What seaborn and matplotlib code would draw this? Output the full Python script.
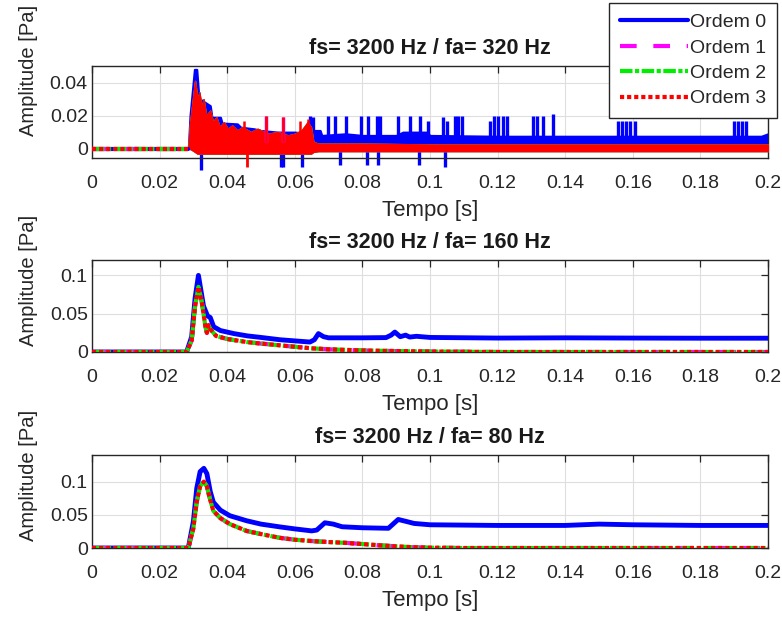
import matplotlib
matplotlib.use("Agg")
import matplotlib.pyplot as plt
from matplotlib.ticker import FuncFormatter
import seaborn as sns

# ---- data ----
# panel 1 (fa = 320 Hz): noisy response drawn as envelopes + spikes
t_top_b = [0, 0.0285, 0.029, 0.0303, 0.031, 0.0316, 0.032, 0.035, 0.0355, 0.038, 0.0385, 0.043, 0.044,
           0.048, 0.05, 0.055, 0.06, 0.065, 0.0655, 0.0675, 0.068, 0.075, 0.08, 0.09, 0.092, 0.099,
           0.1, 0.12, 0.15, 0.18, 0.198, 0.2]
hi_top_b = [0, 0, 0.02, 0.048, 0.048, 0.032, 0.03, 0.026, 0.019, 0.019, 0.0155, 0.015, 0.013,
            0.012, 0.011, 0.01, 0.01, 0.009, 0.011, 0.011, 0.008, 0.009, 0.008, 0.008, 0.01, 0.01,
            0.008, 0.0075, 0.0075, 0.0075, 0.0075, 0.009]
lo_top_b = [0, 0, 0, -0.001, -0.002, -0.002, -0.002, -0.002, -0.002, -0.002, -0.002, -0.002, -0.002,
            -0.002, -0.002, -0.002, -0.002, -0.001, 0.001, 0.001, 0.001, 0.001, 0.001, 0.001, 0.001, 0.001,
            0.001, 0.001, 0.001, 0.001, 0.001, 0.001]
spk_up_t = [0.0699, 0.0719, 0.0753, 0.0797, 0.0817, 0.0842, 0.0852, 0.0906, 0.0941, 0.097, 0.0995,
            0.1039, 0.1051, 0.1074, 0.1084, 0.1096, 0.1178, 0.1189, 0.1202, 0.1215, 0.1227,
            0.1306, 0.1318, 0.1333, 0.1363, 0.1555, 0.1568, 0.158, 0.1593, 0.1606,
            0.1898, 0.191, 0.1922, 0.1935, 0.0645, 0.0655]
spk_up_v = [0.02, 0.02, 0.02, 0.02, 0.02, 0.02, 0.02, 0.02, 0.02, 0.02, 0.017,
            0.019, 0.017, 0.02, 0.02, 0.02, 0.017, 0.02, 0.02, 0.02, 0.02,
            0.02, 0.02, 0.02, 0.021, 0.017, 0.017, 0.017, 0.017, 0.017,
            0.017, 0.017, 0.017, 0.017, 0.02, 0.019]
spk_dn_t = [0.0323, 0.0558, 0.0565, 0.0622, 0.0734, 0.0813, 0.0846, 0.0967, 0.1044]
spk_dn_v = [-0.013, -0.011, -0.011, -0.011, -0.01, -0.01, -0.01, -0.01, -0.011]

t_top_r = [0, 0.0285, 0.029, 0.0305, 0.0312, 0.0318, 0.0325, 0.033, 0.0338, 0.035, 0.0358, 0.0368,
           0.0378, 0.039, 0.0402, 0.0415, 0.043, 0.0445, 0.047, 0.049, 0.052, 0.055, 0.058, 0.06,
           0.062, 0.0638, 0.0648, 0.0655, 0.067, 0.08, 0.1, 0.15, 0.2]
hi_top_r = [0, 0, 0.015, 0.041, 0.03, 0.034, 0.024, 0.03, 0.02, 0.023, 0.016, 0.019,
            0.013, 0.016, 0.012, 0.014, 0.011, 0.013, 0.01, 0.012, 0.009, 0.01, 0.008, 0.009,
            0.011, 0.016, 0.013, 0.004, 0.003, 0.003, 0.0025, 0.0025, 0.0025]
lo_top_r = [0, 0, 0, -0.002, -0.003, -0.003, -0.003, -0.003, -0.003, -0.003, -0.003, -0.003,
            -0.003, -0.003, -0.003, -0.003, -0.003, -0.003, -0.003, -0.003, -0.003, -0.003, -0.003, -0.003,
            -0.003, -0.003, -0.003, -0.002, -0.0015, -0.0015, -0.0015, -0.0015, -0.0015]
spk_r_t = [0.045, 0.0514, 0.0566, 0.0615, 0.064]
spk_r_v = [0.017, 0.02, 0.019, 0.017, 0.018]
spk_r_dn_t = [0.046]
spk_r_dn_v = [-0.011]

# panel 2 (fa = 160 Hz)
t_mid_b = [0, 0.028, 0.0295, 0.0305, 0.0315, 0.033, 0.0342, 0.035, 0.036, 0.038, 0.042, 0.046,
           0.05, 0.0556, 0.06, 0.0645, 0.0658, 0.067, 0.0685, 0.07, 0.08, 0.087, 0.0885, 0.0896,
           0.0912, 0.0928, 0.094, 0.096, 0.1, 0.12, 0.14, 0.16, 0.18, 0.2]
v_mid_b = [0, 0, 0.02, 0.07, 0.1, 0.06, 0.047, 0.045, 0.033, 0.028, 0.024, 0.021,
           0.019, 0.016, 0.0145, 0.013, 0.016, 0.024, 0.02, 0.0185, 0.0185, 0.0188, 0.022, 0.026,
           0.02, 0.022, 0.0195, 0.0205, 0.019, 0.0182, 0.0185, 0.0182, 0.018, 0.018]
t_mid_r = [0, 0.028, 0.0295, 0.0305, 0.0315, 0.0325, 0.0335, 0.034, 0.0345, 0.035, 0.0367, 0.04,
           0.0458, 0.05, 0.0556, 0.06, 0.065, 0.07, 0.08, 0.09, 0.1, 0.11, 0.12, 0.2]
v_mid_r = [0, 0, 0.015, 0.06, 0.085, 0.065, 0.035, 0.025, 0.035, 0.03, 0.021, 0.017,
           0.013, 0.011, 0.0087, 0.0068, 0.0048, 0.0035, 0.002, 0.0012, 0.0006, 0.0003, 0, 0]

# panel 3 (fa = 80 Hz)
t_bot_b = [0, 0.0285, 0.03, 0.031, 0.032, 0.0331, 0.034, 0.035, 0.0359, 0.038, 0.0408, 0.0458,
           0.05, 0.0556, 0.06, 0.065, 0.0665, 0.0689, 0.0714, 0.074, 0.08, 0.0877, 0.0895, 0.0906,
           0.093, 0.0953, 0.1, 0.12, 0.14, 0.15, 0.16, 0.18, 0.2]
v_bot_b = [0, 0, 0.04, 0.09, 0.115, 0.12, 0.112, 0.085, 0.069, 0.057, 0.0486, 0.041,
           0.036, 0.0318, 0.0288, 0.0258, 0.027, 0.038, 0.036, 0.032, 0.0305, 0.0297, 0.038, 0.043,
           0.04, 0.037, 0.035, 0.034, 0.034, 0.036, 0.035, 0.034, 0.034]
t_bot_r = [0, 0.0285, 0.03, 0.031, 0.032, 0.0331, 0.034, 0.035, 0.0359, 0.038, 0.0408, 0.0458,
           0.05, 0.0556, 0.06, 0.0655, 0.07, 0.0753, 0.08, 0.085, 0.09, 0.095, 0.1, 0.11, 0.2]
v_bot_r = [0, 0, 0.03, 0.07, 0.093, 0.1, 0.093, 0.072, 0.056, 0.045, 0.036, 0.0256,
           0.021, 0.0153, 0.0125, 0.0103, 0.009, 0.0077, 0.006, 0.0041, 0.0025, 0.0012, 0.0005, 0, 0]

titles = ["fs= 3200 Hz / fa= 320 Hz", "fs= 3200 Hz / fa= 160 Hz", "fs= 3200 Hz / fa= 80 Hz"]
labels = ["Ordem 0", "Ordem 1", "Ordem 2", "Ordem 3"]
x_ticks = [0, 0.02, 0.04, 0.06, 0.08, 0.1, 0.12, 0.14, 0.16, 0.18, 0.2]
y_ticks = [[0, 0.02, 0.04], [0, 0.05, 0.1], [0, 0.05, 0.1]]
y_lims = [(-0.0057, 0.05), (0, 0.12), (0, 0.14)]
ylabel_y = [0.95, 0.78, 0.785]

colors = ["#0000ff", "#ff00ff", "#00ee00", "#ff0000"]
styles = ["-", (0, (4, 4)), (0, (3, 0.6, 1, 0.6)), (0, (1, 0.7))]
LW = 3

sns.set_style("white")
plt.rcParams["font.family"] = ["Liberation Sans", "DejaVu Sans"]

fig = plt.figure(figsize=(7.82, 6.17), dpi=100)
axes = [fig.add_axes([0.1176, 0.7439, 0.8645, 0.149]),
        fig.add_axes([0.1176, 0.4295, 0.8645, 0.149]),
        fig.add_axes([0.1176, 0.1118, 0.8645, 0.1507])]

# panel 1
ax = axes[0]
ax.fill_between(t_top_b, lo_top_b, hi_top_b, color=colors[0], lw=1.5, zorder=2)
ax.vlines(spk_up_t, 0.005, spk_up_v, color=colors[0], lw=2.4, zorder=2)
ax.vlines(spk_dn_t, spk_dn_v, 0, color=colors[0], lw=2.4, zorder=2, clip_on=False)
for i in (1, 2, 3):
    ax.fill_between(t_top_r, lo_top_r, hi_top_r, color=colors[i], lw=1, zorder=3)
ax.vlines(spk_r_t[1:3], 0.004, spk_r_v[1:3], color=colors[1], lw=2.5, zorder=3)
ax.vlines(spk_r_t, 0.004, spk_r_v, color=colors[3], lw=1.8, zorder=4)
ax.vlines(spk_r_dn_t, spk_r_dn_v, 0, color=colors[3], lw=2, zorder=4, clip_on=False)
for i in range(4):
    sns.lineplot(x=t_top_r[:2], y=[0, 0], ax=ax, color=colors[i], lw=LW,
                 linestyle=styles[i], zorder=5)

# panels 2 and 3
for ax, tb, vb, tr, vr in [(axes[1], t_mid_b, v_mid_b, t_mid_r, v_mid_r),
                           (axes[2], t_bot_b, v_bot_b, t_bot_r, v_bot_r)]:
    sns.lineplot(x=tb, y=vb, ax=ax, color=colors[0], lw=3.5, linestyle=styles[0], zorder=3)
    for i in (1, 2, 3):
        sns.lineplot(x=tr, y=vr, ax=ax, color=colors[i], lw=LW, linestyle=styles[i], zorder=3 + i)

fmt = FuncFormatter(lambda v, p: "%g" % round(v, 4))
for k, ax in enumerate(axes):
    ax.set_xlim(0, 0.2)
    ax.set_ylim(*y_lims[k])
    ax.set_xticks(x_ticks)
    ax.set_yticks(y_ticks[k])
    ax.xaxis.set_major_formatter(fmt)
    ax.yaxis.set_major_formatter(fmt)
    ax.grid(True, color="#dedede", lw=0.8)
    ax.set_axisbelow(True)
    ax.tick_params(direction="in", top=True, right=True, length=5, width=0.9,
                   color="#262626", labelsize=14, labelcolor="#262626")
    ax.tick_params(axis="x", pad=12)
    ax.tick_params(axis="y", pad=3)
    for s in ax.spines.values():
        s.set_color("#262626")
        s.set_linewidth(1.0)
        s.set_visible(True)
    ax.set_title(titles[k], fontsize=15.5, fontweight="bold", color="#1a1a1a", pad=9)
    ax.set_xlabel("Tempo [s]", fontsize=16, color="#262626", labelpad=6)
    ax.set_ylabel("Amplitude [Pa]", fontsize=14.5, color="#262626")
    ax.yaxis.set_label_coords(-0.08, ylabel_y[k])

handles = [plt.Line2D([], [], color=colors[i], lw=LW, linestyle=styles[i]) for i in range(4)]
leg = fig.legend(handles, labels, loc="upper right", bbox_to_anchor=(777 / 782, 1 - 3 / 617),
                 fontsize=14, handlelength=3.5, handletextpad=0.1, labelspacing=0.4,
                 borderpad=0.55, fancybox=False, framealpha=1, edgecolor="#262626",
                 borderaxespad=0)
leg.get_frame().set_linewidth(1.0)

fig.savefig("out.png", dpi=100)
